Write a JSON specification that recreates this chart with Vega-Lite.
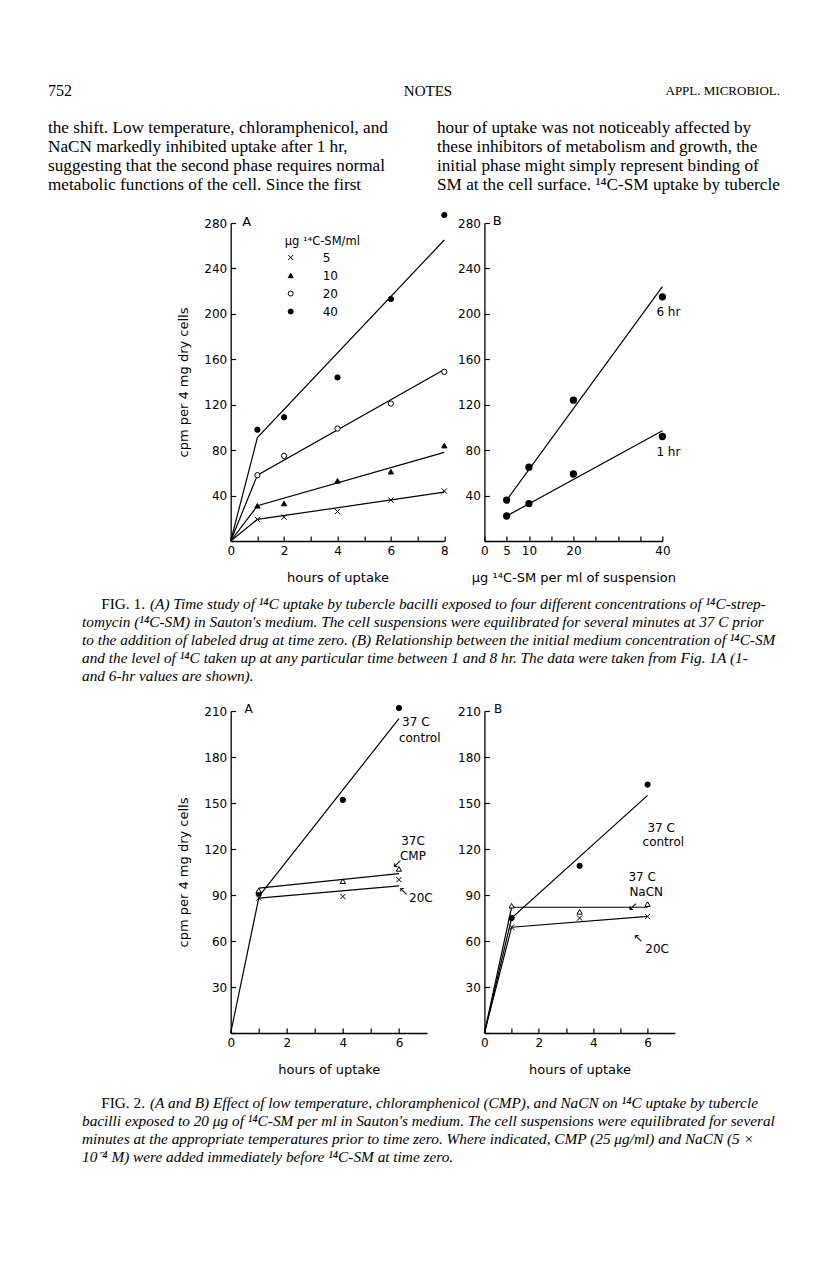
{
  "$schema": "https://vega.github.io/schema/vega-lite/v6.json",
  "background": "white",
  "padding": {"left": 0, "top": 63, "right": 0, "bottom": 0},
  "bounds": "flush",
  "align": "each",
  "columns": 3,
  "spacing": {"row": 0, "column": 39.7},
  "resolve": {"scale": {"shape": "independent", "fill": "independent", "stroke": "independent"}, "legend": {"shape": "independent", "fill": "independent", "stroke": "independent"}},
  "config": {
    "view": {"stroke": null},
    "axis": {"grid": false, "domainColor": "black", "domainWidth": 1.3, "tickColor": "black", "tickWidth": 1.2, "tickSize": -5, "labelPadding": 9, "labelFont": "DejaVu Sans", "labelFontSize": 12, "labelColor": "black", "titleFont": "DejaVu Sans", "titleFontSize": 13, "titleFontWeight": "normal", "titleColor": "black", "labelFlush": false, "labelOverlap": false},
    "text": {"color": "black"}
  },
  "concat": [
    {
      "width": 191, "height": 56,
      "data": {"values": [
        {"slot": "left", "text": "752"},
        {"slot": "center", "text": "NOTES"},
        {"slot": "right", "text": "APPL. MICROBIOL."}
      ]},
      "layer": [
        {"transform": [{"filter": "datum.slot === 'left'"}],
         "mark": {"type": "text", "align": "left", "font": "Liberation Serif", "fontSize": 16},
         "encoding": {"x": {"field": "slot", "type": "nominal", "scale": {"type": "point", "domain": ["left", "center", "right"], "range": [48, 780], "padding": 0}, "axis": null}, "text": {"field": "text"}}},
        {"transform": [{"filter": "datum.slot === 'center'"}],
         "mark": {"type": "text", "align": "center", "font": "Liberation Serif", "fontSize": 15, "dx": 14},
         "encoding": {"x": {"field": "slot", "type": "nominal", "scale": {"type": "point", "domain": ["left", "center", "right"], "range": [48, 780], "padding": 0}, "axis": null}, "text": {"field": "text"}}},
        {"transform": [{"filter": "datum.slot === 'right'"}],
         "mark": {"type": "text", "align": "right", "font": "Liberation Serif", "fontSize": 13},
         "encoding": {"x": {"field": "slot", "type": "nominal", "scale": {"type": "point", "domain": ["left", "center", "right"], "range": [48, 780], "padding": 0}, "axis": null}, "text": {"field": "text"}}}
      ]
    },
    {"width": 1, "height": 1, "data": {"values": []}, "mark": "point"},
    {"width": 1, "height": 1, "data": {"values": []}, "mark": "point"},
    {
      "width": 191, "height": 104,
      "data": {"values": [
        {"col": "left", "line": 1, "text": "the shift. Low temperature, chloramphenicol, and"},
        {"col": "left", "line": 2, "text": "NaCN markedly inhibited uptake after 1 hr,"},
        {"col": "left", "line": 3, "text": "suggesting that the second phase requires normal"},
        {"col": "left", "line": 4, "text": "metabolic functions of the cell. Since the first"},
        {"col": "right", "line": 1, "text": "hour of uptake was not noticeably affected by"},
        {"col": "right", "line": 2, "text": "these inhibitors of metabolism and growth, the"},
        {"col": "right", "line": 3, "text": "initial phase might simply represent binding of"},
        {"col": "right", "line": 4, "text": "SM at the cell surface. ¹⁴C-SM uptake by tubercle"}
      ]},
      "mark": {"type": "text", "align": "left", "baseline": "middle", "font": "Liberation Serif", "fontSize": 17.2},
      "encoding": {
        "x": {"field": "col", "type": "nominal", "scale": {"type": "point", "domain": ["left", "right"], "range": [48, 437], "padding": 0}, "axis": null},
        "y": {"field": "line", "type": "quantitative", "scale": {"domain": [0.5, 5.974], "reverse": true}, "axis": null},
        "text": {"field": "text"}
      }
    },
    {"width": 1, "height": 1, "data": {"values": []}, "mark": "point"},
    {"width": 1, "height": 1, "data": {"values": []}, "mark": "point"},
    {"width": 191, "height": 318, "data": {"values": []}, "mark": "point"},
    {
      "width": 213.6, "height": 318,
      "encoding": {
        "x": {"field": "hr", "type": "quantitative", "scale": {"domain": [0, 8]},
              "axis": {"values": [0, 1, 2, 3, 4, 5, 6, 7, 8], "labelExpr": "datum.value % 2 === 0 ? datum.label : ''", "title": "hours of uptake", "titlePadding": 15}},
        "y": {"field": "cpm", "type": "quantitative", "scale": {"domain": [0, 280]},
              "axis": {"values": [0, 40, 80, 120, 160, 200, 240, 280], "labelExpr": "datum.value === 0 ? '' : datum.label", "title": "cpm per 4 mg dry cells", "titlePadding": 13}}
      },
      "layer": [
        {
          "data": {"values": [
            {"conc": "5", "hr": 0, "cpm": 0}, {"conc": "5", "hr": 1, "cpm": 19}, {"conc": "5", "hr": 8, "cpm": 43},
            {"conc": "10", "hr": 0, "cpm": 0}, {"conc": "10", "hr": 1, "cpm": 31}, {"conc": "10", "hr": 8, "cpm": 78},
            {"conc": "20", "hr": 0, "cpm": 0}, {"conc": "20", "hr": 1, "cpm": 58}, {"conc": "20", "hr": 8, "cpm": 151},
            {"conc": "40", "hr": 0, "cpm": 0}, {"conc": "40", "hr": 1, "cpm": 91}, {"conc": "40", "hr": 8, "cpm": 265}
          ]},
          "mark": {"type": "line", "color": "black", "strokeWidth": 1.2},
          "encoding": {"detail": {"field": "conc", "type": "nominal"}}
        },
        {
          "data": {"values": [
            {"conc": "5", "hr": 1, "cpm": 19}, {"conc": "5", "hr": 2, "cpm": 21}, {"conc": "5", "hr": 4, "cpm": 26}, {"conc": "5", "hr": 6, "cpm": 36}, {"conc": "5", "hr": 8, "cpm": 44},
            {"conc": "10", "hr": 1, "cpm": 31}, {"conc": "10", "hr": 2, "cpm": 33}, {"conc": "10", "hr": 4, "cpm": 53}, {"conc": "10", "hr": 6, "cpm": 61}, {"conc": "10", "hr": 8, "cpm": 84},
            {"conc": "20", "hr": 1, "cpm": 58}, {"conc": "20", "hr": 2, "cpm": 75}, {"conc": "20", "hr": 4, "cpm": 99}, {"conc": "20", "hr": 6, "cpm": 121}, {"conc": "20", "hr": 8, "cpm": 149},
            {"conc": "40", "hr": 1, "cpm": 98}, {"conc": "40", "hr": 2, "cpm": 109}, {"conc": "40", "hr": 4, "cpm": 144}, {"conc": "40", "hr": 6, "cpm": 213}, {"conc": "40", "hr": 8, "cpm": 287}
          ]},
          "mark": {"type": "point", "filled": false, "strokeWidth": 1, "size": 28, "opacity": 1},
          "encoding": {
            "shape": {"field": "conc", "type": "nominal", "scale": {"domain": ["5", "10", "20", "40"], "range": ["M-1,-1L1,1M-1,1L1,-1", "triangle-up", "circle", "circle"]},
                      "legend": {"orient": "none", "legendX": 54, "legendY": 13, "padding": 0, "title": "μg ¹⁴C-SM/ml", "titleFont": "DejaVu Sans", "titleFontSize": 11.5, "titleFontWeight": "normal", "titleColor": "black", "titlePadding": 4, "labelFont": "DejaVu Sans", "labelFontSize": 12, "labelColor": "black", "labelOffset": 26, "symbolSize": 25, "symbolStrokeWidth": 1, "rowPadding": 6}},
            "fill": {"field": "conc", "type": "nominal", "scale": {"domain": ["5", "10", "20", "40"], "range": ["black", "black", "white", "black"]},
                     "legend": {"orient": "none", "legendX": 54, "legendY": 13, "padding": 0, "title": "μg ¹⁴C-SM/ml", "titleFont": "DejaVu Sans", "titleFontSize": 11.5, "titleFontWeight": "normal", "titleColor": "black", "titlePadding": 4, "labelFont": "DejaVu Sans", "labelFontSize": 12, "labelColor": "black", "labelOffset": 26, "symbolSize": 25, "symbolStrokeWidth": 1, "rowPadding": 6}},
            "stroke": {"field": "conc", "type": "nominal", "scale": {"domain": ["5", "10", "20", "40"], "range": ["black", "black", "black", "black"]},
                       "legend": {"orient": "none", "legendX": 54, "legendY": 13, "padding": 0, "title": "μg ¹⁴C-SM/ml", "titleFont": "DejaVu Sans", "titleFontSize": 11.5, "titleFontWeight": "normal", "titleColor": "black", "titlePadding": 4, "labelFont": "DejaVu Sans", "labelFontSize": 12, "labelColor": "black", "labelOffset": 26, "symbolSize": 25, "symbolStrokeWidth": 1, "rowPadding": 6}}
          }
        },
        {
          "data": {"values": [{"label": "A", "hr": 0.6, "cpm": 281}]},
          "mark": {"type": "text", "font": "DejaVu Sans", "fontSize": 13, "align": "center", "baseline": "middle"},
          "encoding": {"text": {"field": "label"}}
        }
      ]
    },
    {
      "width": 178, "height": 318,
      "encoding": {
        "x": {"field": "conc", "type": "quantitative", "scale": {"domain": [0, 40]},
              "axis": {"values": [0, 5, 10, 15, 20, 25, 30, 35, 40], "labelExpr": "indexof([0, 5, 10, 20, 40], datum.value) >= 0 ? datum.label : ''", "title": "μg ¹⁴C-SM per ml of suspension", "titlePadding": 15}},
        "y": {"field": "cpm", "type": "quantitative", "scale": {"domain": [0, 280]},
              "axis": {"values": [0, 40, 80, 120, 160, 200, 240, 280], "labelExpr": "datum.value === 0 ? '' : datum.label", "title": null}}
      },
      "layer": [
        {
          "data": {"values": [
            {"time": "6 hr", "conc": 5, "cpm": 36}, {"time": "6 hr", "conc": 40, "cpm": 224},
            {"time": "1 hr", "conc": 5, "cpm": 22}, {"time": "1 hr", "conc": 40, "cpm": 97}
          ]},
          "mark": {"type": "line", "color": "black", "strokeWidth": 1.2},
          "encoding": {"detail": {"field": "time", "type": "nominal"}}
        },
        {
          "data": {"name": "fig1b"},
          "mark": {"type": "point", "filled": true, "fill": "black", "stroke": "black", "size": 28, "opacity": 1}
        },
        {
          "data": {"name": "fig1b"},
          "transform": [{"filter": "datum.conc === 40"}],
          "mark": {"type": "text", "font": "DejaVu Sans", "fontSize": 12, "align": "center", "dx": 6, "dy": 15},
          "encoding": {"text": {"field": "time"}}
        },
        {
          "data": {"values": [{"label": "B", "conc": 2.9, "cpm": 282}]},
          "mark": {"type": "text", "font": "DejaVu Sans", "fontSize": 13, "align": "center", "baseline": "middle"},
          "encoding": {"text": {"field": "label"}}
        }
      ]
    },
    {
      "width": 191, "height": 170,
      "data": {"values": [
        {"line": 1, "part": "lead", "style": "roman", "text": "FIG. 1."},
        {"line": 1, "part": "lead", "style": "italic", "text": "(A) Time study of ¹⁴C uptake by tubercle bacilli exposed to four different concentrations of ¹⁴C-strep-"},
        {"line": 2, "part": "body", "style": "italic", "text": "tomycin (¹⁴C-SM) in Sauton's medium. The cell suspensions were equilibrated for several minutes at 37 C prior"},
        {"line": 3, "part": "body", "style": "italic", "text": "to the addition of labeled drug at time zero. (B) Relationship between the initial medium concentration of ¹⁴C-SM"},
        {"line": 4, "part": "body", "style": "italic", "text": "and the level of ¹⁴C taken up at any particular time between 1 and 8 hr. The data were taken from Fig. 1A (1-"},
        {"line": 5, "part": "body", "style": "italic", "text": "and 6-hr values are shown)."}
      ]},
      "encoding": {
        "x": {"field": "part", "type": "nominal", "scale": {"type": "point", "domain": ["body", "lead"], "range": [82, 150], "padding": 0}, "axis": null},
        "y": {"field": "line", "type": "quantitative", "scale": {"domain": [-2.5, 6.944], "reverse": true}, "axis": null},
        "text": {"field": "text"}
      },
      "layer": [
        {"transform": [{"filter": "datum.style === 'italic'"}],
         "mark": {"type": "text", "align": "left", "baseline": "middle", "font": "Liberation Serif", "fontStyle": "italic", "fontSize": 15.3}},
        {"transform": [{"filter": "datum.style === 'roman'"}],
         "mark": {"type": "text", "align": "right", "baseline": "middle", "font": "Liberation Serif", "fontSize": 15.3, "dx": -5}}
      ]
    },
    {"width": 1, "height": 1, "data": {"values": []}, "mark": "point"},
    {"width": 1, "height": 1, "data": {"values": []}, "mark": "point"},
    {"width": 191, "height": 322, "data": {"values": []}, "mark": "point"},
    {
      "width": 196.3, "height": 322,
      "encoding": {
        "x": {"field": "hr", "type": "quantitative", "scale": {"domain": [0, 7]},
              "axis": {"values": [0, 1, 2, 3, 4, 5, 6], "labelExpr": "datum.value % 2 === 0 ? datum.label : ''", "title": "hours of uptake", "titlePadding": 15}},
        "y": {"field": "cpm", "type": "quantitative", "scale": {"domain": [0, 210]},
              "axis": {"values": [0, 30, 60, 90, 120, 150, 180, 210], "labelExpr": "datum.value === 0 ? '' : datum.label", "title": "cpm per 4 mg dry cells", "titlePadding": 13}}
      },
      "layer": [
        {
          "data": {"values": [
            {"cond": "initial", "hr": 0, "cpm": 0}, {"cond": "initial", "hr": 1, "cpm": 88},
            {"cond": "control", "hr": 1, "cpm": 89}, {"cond": "control", "hr": 6, "cpm": 205},
            {"cond": "CMP", "hr": 1, "cpm": 94.5}, {"cond": "CMP", "hr": 6, "cpm": 104},
            {"cond": "20C", "hr": 1, "cpm": 88}, {"cond": "20C", "hr": 6, "cpm": 96}
          ]},
          "mark": {"type": "line", "color": "black", "strokeWidth": 1.2},
          "encoding": {"detail": {"field": "cond", "type": "nominal"}}
        },
        {
          "data": {"values": [
            {"cond": "control", "hr": 1, "cpm": 91}, {"cond": "control", "hr": 4, "cpm": 152}, {"cond": "control", "hr": 6, "cpm": 212},
            {"cond": "CMP", "hr": 1, "cpm": 93}, {"cond": "CMP", "hr": 4, "cpm": 99}, {"cond": "CMP", "hr": 6, "cpm": 107},
            {"cond": "20C", "hr": 1, "cpm": 88}, {"cond": "20C", "hr": 4, "cpm": 89}, {"cond": "20C", "hr": 6, "cpm": 100}
          ]},
          "mark": {"type": "point", "filled": true, "stroke": "black", "strokeWidth": 1, "size": 28, "opacity": 1},
          "encoding": {
            "shape": {"field": "cond", "type": "nominal", "scale": {"domain": ["control", "CMP", "20C"], "range": ["circle", "triangle-up", "M-1,-1L1,1M-1,1L1,-1"]}, "legend": null},
            "fill": {"field": "cond", "type": "nominal", "scale": {"domain": ["control", "CMP", "20C"], "range": ["black", "white", "black"]}, "legend": null}
          }
        },
        {
          "data": {"values": [
            {"label": "A", "hr": 0.64, "cpm": 211},
            {"label": "37 C", "hr": 6.6, "cpm": 203},
            {"label": "control", "hr": 6.74, "cpm": 192.4},
            {"label": "37C", "hr": 6.5, "cpm": 125},
            {"label": "CMP", "hr": 6.5, "cpm": 115.5},
            {"label": "↙", "hr": 5.93, "cpm": 111},
            {"label": "20C", "hr": 6.78, "cpm": 88},
            {"label": "↖", "hr": 6.15, "cpm": 92.6}
          ]},
          "mark": {"type": "text", "font": "DejaVu Sans", "fontSize": 12, "align": "center", "baseline": "middle"},
          "encoding": {"text": {"field": "label"}}
        }
      ]
    },
    {
      "width": 190.4, "height": 322,
      "encoding": {
        "x": {"field": "hr", "type": "quantitative", "scale": {"domain": [0, 7]},
              "axis": {"values": [0, 1, 2, 3, 4, 5, 6], "labelExpr": "datum.value % 2 === 0 ? datum.label : ''", "title": "hours of uptake", "titlePadding": 15}},
        "y": {"field": "cpm", "type": "quantitative", "scale": {"domain": [0, 210]},
              "axis": {"values": [0, 30, 60, 90, 120, 150, 180, 210], "labelExpr": "datum.value === 0 ? '' : datum.label", "title": null}}
      },
      "layer": [
        {
          "data": {"values": [
            {"cond": "control", "hr": 0, "cpm": 0}, {"cond": "control", "hr": 1, "cpm": 75}, {"cond": "control", "hr": 6, "cpm": 155},
            {"cond": "NaCN", "hr": 0, "cpm": 0}, {"cond": "NaCN", "hr": 1, "cpm": 82}, {"cond": "NaCN", "hr": 6, "cpm": 82},
            {"cond": "20C", "hr": 0, "cpm": 0}, {"cond": "20C", "hr": 1, "cpm": 69}, {"cond": "20C", "hr": 6, "cpm": 76}
          ]},
          "mark": {"type": "line", "color": "black", "strokeWidth": 1.2},
          "encoding": {"detail": {"field": "cond", "type": "nominal"}}
        },
        {
          "data": {"values": [
            {"cond": "control", "hr": 1, "cpm": 75}, {"cond": "control", "hr": 3.5, "cpm": 109}, {"cond": "control", "hr": 6, "cpm": 162},
            {"cond": "NaCN", "hr": 1, "cpm": 83}, {"cond": "NaCN", "hr": 3.5, "cpm": 79}, {"cond": "NaCN", "hr": 6, "cpm": 84},
            {"cond": "20C", "hr": 1, "cpm": 69}, {"cond": "20C", "hr": 3.5, "cpm": 75}, {"cond": "20C", "hr": 6, "cpm": 76}
          ]},
          "mark": {"type": "point", "filled": true, "stroke": "black", "strokeWidth": 1, "size": 28, "opacity": 1},
          "encoding": {
            "shape": {"field": "cond", "type": "nominal", "scale": {"domain": ["control", "NaCN", "20C"], "range": ["circle", "triangle-up", "M-1,-1L1,1M-1,1L1,-1"]}, "legend": null},
            "fill": {"field": "cond", "type": "nominal", "scale": {"domain": ["control", "NaCN", "20C"], "range": ["black", "white", "black"]}, "legend": null}
          }
        },
        {
          "data": {"values": [
            {"label": "B", "hr": 0.5, "cpm": 211},
            {"label": "37 C", "hr": 6.5, "cpm": 134},
            {"label": "control", "hr": 6.58, "cpm": 124.5},
            {"label": "37 C", "hr": 5.8, "cpm": 102},
            {"label": "NaCN", "hr": 5.95, "cpm": 92},
            {"label": "↙", "hr": 5.45, "cpm": 83},
            {"label": "20C", "hr": 6.35, "cpm": 55},
            {"label": "↖", "hr": 5.65, "cpm": 62}
          ]},
          "mark": {"type": "text", "font": "DejaVu Sans", "fontSize": 12, "align": "center", "baseline": "middle"},
          "encoding": {"text": {"field": "label"}}
        }
      ]
    },
    {
      "width": 191, "height": 232,
      "data": {"values": [
        {"line": 1, "part": "lead", "style": "roman", "text": "FIG. 2."},
        {"line": 1, "part": "lead", "style": "italic", "text": "(A and B) Effect of low temperature, chloramphenicol (CMP), and NaCN on ¹⁴C uptake by tubercle"},
        {"line": 2, "part": "body", "style": "italic", "text": "bacilli exposed to 20 μg of ¹⁴C-SM per ml in Sauton's medium. The cell suspensions were equilibrated for several"},
        {"line": 3, "part": "body", "style": "italic", "text": "minutes at the appropriate temperatures prior to time zero. Where indicated, CMP (25 μg/ml) and NaCN (5 ×"},
        {"line": 4, "part": "body", "style": "italic", "text": "10⁻⁴ M) were added immediately before ¹⁴C-SM at time zero."}
      ]},
      "encoding": {
        "x": {"field": "part", "type": "nominal", "scale": {"type": "point", "domain": ["body", "lead"], "range": [82, 150], "padding": 0}, "axis": null},
        "y": {"field": "line", "type": "quantitative", "scale": {"domain": [-2.889, 10], "reverse": true}, "axis": null},
        "text": {"field": "text"}
      },
      "layer": [
        {"transform": [{"filter": "datum.style === 'italic'"}],
         "mark": {"type": "text", "align": "left", "baseline": "middle", "font": "Liberation Serif", "fontStyle": "italic", "fontSize": 15.3}},
        {"transform": [{"filter": "datum.style === 'roman'"}],
         "mark": {"type": "text", "align": "right", "baseline": "middle", "font": "Liberation Serif", "fontSize": 15.3, "dx": -5}}
      ]
    },
    {"width": 1, "height": 1, "data": {"values": []}, "mark": "point"},
    {"width": 1, "height": 1, "data": {"values": []}, "mark": "point"}
  ],
  "datasets": {
    "fig1b": [
      {"time": "6 hr", "conc": 5, "cpm": 36}, {"time": "6 hr", "conc": 10, "cpm": 65}, {"time": "6 hr", "conc": 20, "cpm": 124}, {"time": "6 hr", "conc": 40, "cpm": 215},
      {"time": "1 hr", "conc": 5, "cpm": 22}, {"time": "1 hr", "conc": 10, "cpm": 33}, {"time": "1 hr", "conc": 20, "cpm": 59}, {"time": "1 hr", "conc": 40, "cpm": 92}
    ]
  }
}
